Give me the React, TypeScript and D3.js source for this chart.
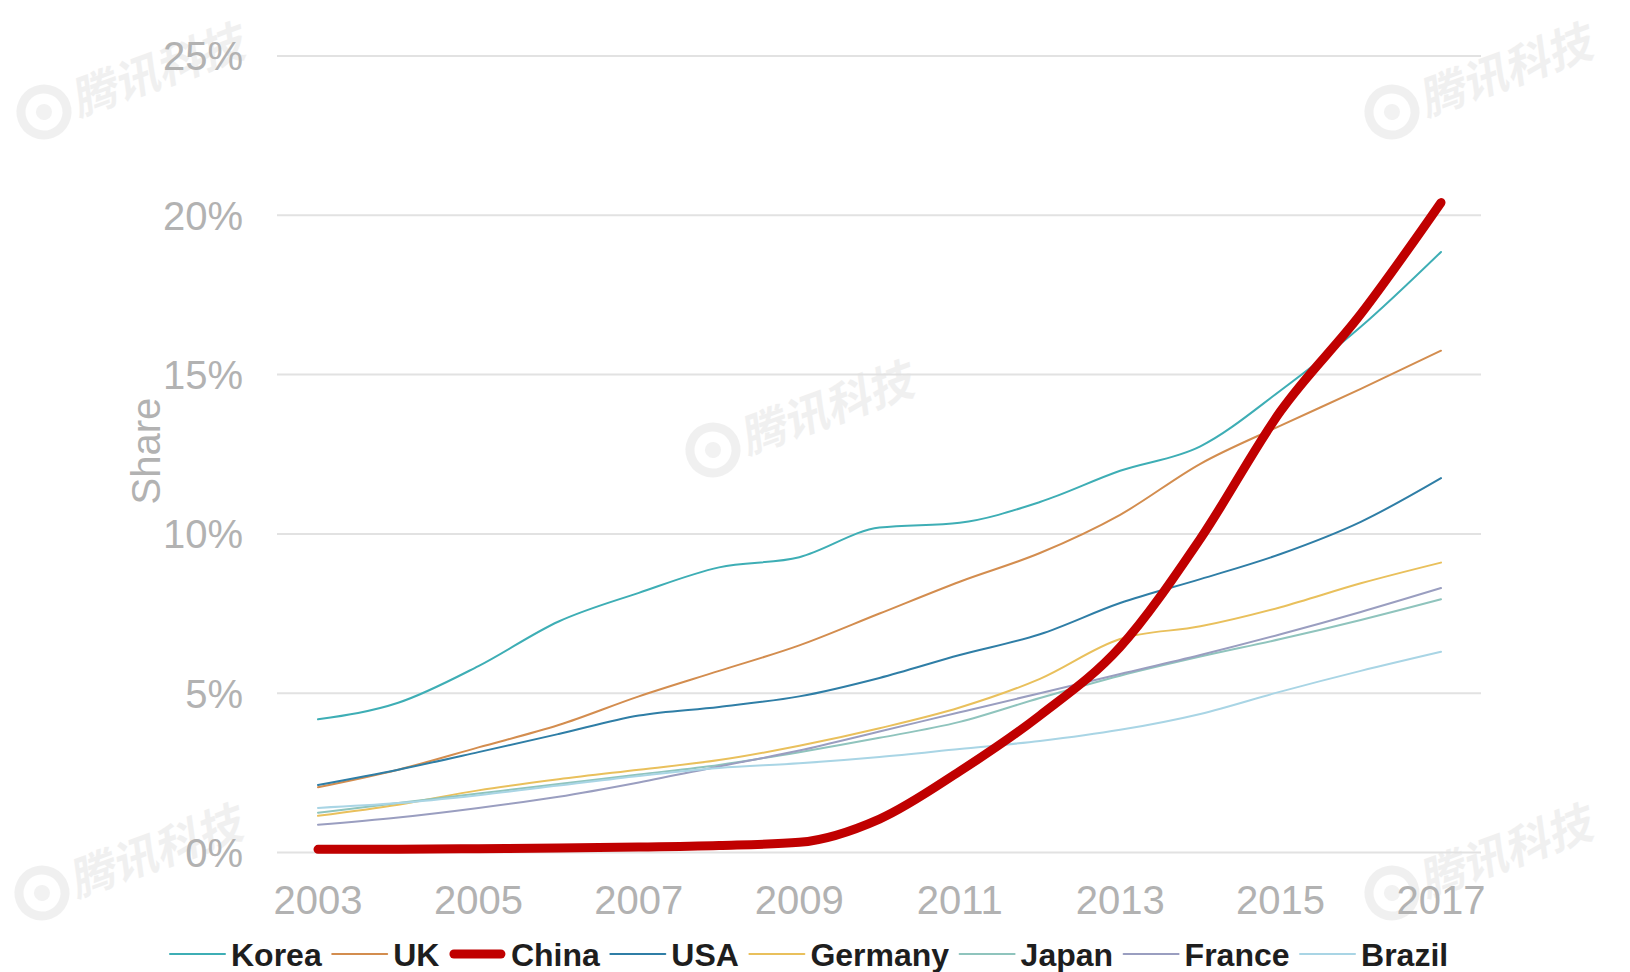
import React, { useMemo } from 'react';
import * as d3 from 'd3';

// canvas + plot frame
const W = 1630;
const H = 972;
const X0 = 318;   // 2003
const X1 = 1441;  // 2017
const Y0 = 852.5; // 0%
const Y1 = 56;    // 25%
const GRID_L = 277;
const GRID_R = 1481;

const FONT = '"Liberation Sans", Arial, Helvetica, sans-serif';
const TICK_GRAY = '#b2b2b2';

// ─── data (share, %) ──────────────────────────────────────────────────────
const years = [2003, 2004, 2005, 2006, 2007, 2008, 2009, 2010, 2011, 2012, 2013, 2014, 2015, 2016, 2017];
const xTicks = [2003, 2005, 2007, 2009, 2011, 2013, 2015, 2017];
const yTicks = [0, 5, 10, 15, 20, 25];

const korea = [4.18, 4.7, 5.85, 7.25, 8.15, 8.95, 9.27, 10.2, 10.35, 11.0, 11.98, 12.75, 14.5, 16.5, 18.85];
const uk = [2.05, 2.6, 3.3, 4.0, 4.9, 5.7, 6.5, 7.5, 8.5, 9.4, 10.6, 12.2, 13.4, 14.55, 15.75];
const china = [0.1, 0.1, 0.12, 0.14, 0.17, 0.22, 0.32, 1.05, 2.55, 4.3, 6.45, 9.85, 13.85, 16.9, 20.4];
const usa = [2.12, 2.6, 3.15, 3.72, 4.3, 4.57, 4.9, 5.48, 6.2, 6.85, 7.83, 8.58, 9.37, 10.38, 11.75];
const germany = [1.15, 1.5, 1.95, 2.3, 2.6, 2.9, 3.35, 3.9, 4.55, 5.45, 6.7, 7.1, 7.7, 8.45, 9.1];
const japan = [1.25, 1.55, 1.85, 2.15, 2.45, 2.75, 3.15, 3.6, 4.1, 4.85, 5.55, 6.15, 6.7, 7.3, 7.95];
const france = [0.87, 1.1, 1.4, 1.75, 2.2, 2.7, 3.2, 3.8, 4.4, 5.0, 5.6, 6.2, 6.85, 7.55, 8.3];
const brazil = [1.4, 1.55, 1.8, 2.1, 2.4, 2.65, 2.8, 3.0, 3.25, 3.5, 3.85, 4.35, 5.05, 5.7, 6.3];

const seriesNames = ['Korea', 'UK', 'China', 'USA', 'Germany', 'Japan', 'France', 'Brazil'];
const seriesValues = [korea, uk, china, usa, germany, japan, france, brazil];
const seriesColors = ['#3eaeb5', '#d38d4f', '#c00000', '#2f7ea6', '#e9c05c', '#8fc4bd', '#9a9ec0', '#a9d5e5'];

// watermark anchors (logo centre)
const marks = [
  [44, 112],
  [1392, 112],
  [713, 450],
  [42, 893],
  [1392, 893],
];

type Row = { year: number; v: number };

function measure(text: string, font: string): number {
  const c = document.createElement('canvas').getContext('2d');
  if (!c) return text.length * 18;
  c.font = font;
  return c.measureText(text).width;
}

const Watermark: React.FC<{ x: number; y: number }> = ({ x, y }) => (
  <g transform={`translate(${x},${y}) rotate(-20)`} opacity={0.4}>
    <circle r={23} fill="none" stroke="#dcdcdc" strokeWidth={9} />
    <circle r={8} fill="#e0e0e0" />
    <text
      x={34}
      y={16}
      fontSize={45}
      fontWeight={700}
      fill="#dcdcdc"
      fontFamily='"Noto Sans CJK SC", sans-serif'
      transform="skewX(-12)"
    >
      腾讯科技
    </text>
  </g>
);

export default function App() {
  const x = d3.scaleLinear().domain([2003, 2017]).range([X0, X1]);
  const y = d3.scaleLinear().domain([0, 25]).range([Y0, Y1]);
  const line = d3
    .line<Row>()
    .x(d => x(d.year))
    .y(d => y(d.v))
    .curve(d3.curveMonotoneX);

  const series = seriesNames.map((name, i) => ({
    name,
    color: seriesColors[i],
    width: name === 'China' ? 9 : 2,
    rows: years.map((yr, j) => ({ year: yr, v: seriesValues[i][j] })),
  }));
  // China sits on top of everything
  const drawOrder = [...series.filter(s => s.name !== 'China'), ...series.filter(s => s.name === 'China')];

  const legend = useMemo(() => {
    const font = `bold 32px ${FONT}`;
    const SW = 55;
    let cx = 170;
    return seriesNames.map((name, i) => {
      const item = { name, color: seriesColors[i], x: cx, tx: cx + SW + 6 };
      cx = item.tx + measure(name, font) + 10.5;
      return item;
    });
  }, []);

  return (
    <svg
      width={W}
      height={H}
      style={{ position: 'absolute', left: 0, top: 0, background: '#fff' }}
      fontFamily={FONT}
    >
      <rect width={W} height={H} fill="#fff" />
      {marks.map(([mx, my], i) => <Watermark key={i} x={mx} y={my} />)}

      {/* grid + y labels */}
      {yTicks.map(t => (
        <g key={t}>
          <line x1={GRID_L} x2={GRID_R} y1={y(t)} y2={y(t)} stroke="#e2e2e2" strokeWidth={2} />
          <text x={243} y={y(t)} dy="0.36em" textAnchor="end" fontSize={40} fill={TICK_GRAY}>
            {t}%
          </text>
        </g>
      ))}

      {/* x labels */}
      {xTicks.map(t => (
        <text key={t} x={x(t)} y={900} dy="0.36em" textAnchor="middle" fontSize={40} fill={TICK_GRAY}>
          {t}
        </text>
      ))}

      <text
        transform={`translate(146,451) rotate(-90)`}
        dy="0.36em"
        textAnchor="middle"
        fontSize={40}
        fill={TICK_GRAY}
      >
        Share
      </text>

      {drawOrder.map(s => (
        <path
          key={s.name}
          d={line(s.rows) ?? undefined}
          fill="none"
          stroke={s.color}
          strokeWidth={s.width}
          strokeLinecap="round"
          strokeLinejoin="round"
        />
      ))}

      {/* legend */}
      {legend.map(l => (
        <g key={l.name}>
          <line
            x1={l.x + (l.name === 'China' ? 4 : 0)}
            x2={l.x + 55 - (l.name === 'China' ? 4 : 0)}
            y1={954}
            y2={954}
            stroke={l.color}
            strokeWidth={l.name === 'China' ? 9 : 2}
            strokeLinecap="round"
          />
          <text x={l.tx} y={954} dy="0.36em" fontSize={32} fontWeight={700} fill="#1e1e1e">
            {l.name}
          </text>
        </g>
      ))}
    </svg>
  );
}
